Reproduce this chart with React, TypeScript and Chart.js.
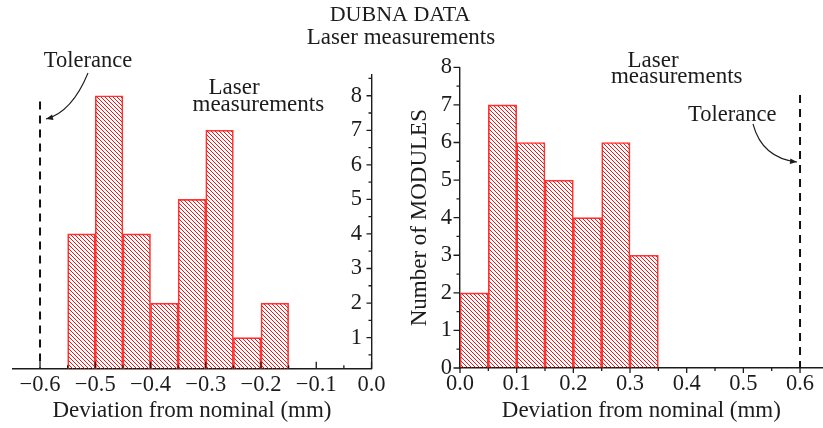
import React, { useEffect, useRef } from 'react';
import { Chart, registerables } from 'chart.js';

Chart.register(...registerables);

// Histogram bins (mm) and module counts
const BIN_WIDTH = 0.05;
const leftBinStarts = [-0.55, -0.5, -0.45, -0.4, -0.35, -0.3, -0.25, -0.2];
const leftCounts = [4, 8, 4, 2, 5, 7, 1, 2];
const rightBinStarts = [0, 0.05, 0.1, 0.15, 0.2, 0.25, 0.3];
const rightCounts = [2, 7, 6, 5, 4, 6, 3];

// Axis ticks
const leftXTicks = [-0.6, -0.5, -0.4, -0.3, -0.2, -0.1, 0];
const rightXTicks = [0, 0.1, 0.2, 0.3, 0.4, 0.5, 0.6];
const leftYTicks = [1, 2, 3, 4, 5, 6, 7, 8];
const rightYTicks = [0, 1, 2, 3, 4, 5, 6, 7, 8];

// Tolerance limits (mm)
const leftTolerance = -0.6;
const rightTolerance = 0.6;
const leftToleranceTop = 7.83;
const rightToleranceTop = 7.26;

const SERIF = '"Liberation Serif", "Times New Roman", Times, serif';
const INK = '#1c1c1c';
const RED = '#ff3535';
const HATCH = 4;

const fmt = (v: number) => (v < -1e-9 ? '\u2212' : '') + Math.abs(v).toFixed(1);

function makeHatch(): CanvasPattern | string {
  const tile = document.createElement('canvas');
  tile.width = HATCH;
  tile.height = HATCH;
  const g = tile.getContext('2d');
  if (!g) return 'rgba(255,0,0,0.4)';
  g.strokeStyle = '#ff1010';
  g.lineWidth = 1;
  g.beginPath();
  for (let k = -1; k <= 1; k++) {
    g.moveTo(k * HATCH - 1, -1);
    g.lineTo(k * HATCH + HATCH + 1, HATCH + 1);
  }
  g.stroke();
  return g.createPattern(tile, 'repeat') || 'rgba(255,0,0,0.4)';
}

// minor ticks halfway between majors, strictly inside the axis range
function minorsOf(majors: number[], min: number, max: number): number[] {
  const step = majors[1] - majors[0];
  const out: number[] = [];
  const eps = 1e-6;
  majors.forEach((m) => {
    [m - step / 2, m + step / 2].forEach((v) => {
      if (v > min + eps && v < max - eps && !out.some((o) => Math.abs(o - v) < eps)) out.push(v);
    });
  });
  return out;
}

type Label = { text: string; x: number; y: number; size: number };
type Arrow = { from: [number, number]; ctrl: [number, number]; to: (c: Chart) => [number, number] };
type Decor = {
  xMajor: number[];
  xMinor: number[];
  xDir: number;
  xLen: [number, number];
  yAxisAt: (c: Chart) => number;
  yMajor: number[];
  yMinor: number[];
  yLen: [number, number];
  yLabels: boolean;
  labels: Label[];
  arrows: Arrow[];
};

function decorPlugin(d: Decor) {
  return {
    id: 'decor',
    afterDraw(chart: Chart) {
      const ctx = chart.ctx;
      const xs = chart.scales.x;
      const ys = chart.scales.y;
      const area = chart.chartArea;
      ctx.save();
      ctx.strokeStyle = INK;
      ctx.lineWidth = 1.3;
      ctx.beginPath();
      d.xMajor.forEach((v) => {
        const px = xs.getPixelForValue(v);
        ctx.moveTo(px, area.bottom);
        ctx.lineTo(px, area.bottom + d.xDir * d.xLen[0]);
      });
      d.xMinor.forEach((v) => {
        const px = xs.getPixelForValue(v);
        ctx.moveTo(px, area.bottom);
        ctx.lineTo(px, area.bottom + d.xDir * d.xLen[1]);
      });
      const ax = d.yAxisAt(chart);
      d.yMajor.forEach((v) => {
        const py = ys.getPixelForValue(v);
        ctx.moveTo(ax, py);
        ctx.lineTo(ax - d.yLen[0], py);
      });
      d.yMinor.forEach((v) => {
        const py = ys.getPixelForValue(v);
        ctx.moveTo(ax, py);
        ctx.lineTo(ax - d.yLen[1], py);
      });
      ctx.stroke();

      ctx.fillStyle = INK;
      if (d.yLabels) {
        ctx.font = `22.5px ${SERIF}`;
        ctx.textAlign = 'right';
        ctx.textBaseline = 'middle';
        d.yMajor.forEach((v) => {
          ctx.fillText(String(v), ax - 9.5, ys.getPixelForValue(v));
        });
      }

      ctx.textAlign = 'center';
      ctx.textBaseline = 'alphabetic';
      d.labels.forEach((l) => {
        ctx.font = `${l.size}px ${SERIF}`;
        ctx.fillText(l.text, l.x, l.y);
      });

      ctx.lineWidth = 1.1;
      d.arrows.forEach((a) => {
        const [tx, ty] = a.to(chart);
        ctx.beginPath();
        ctx.moveTo(a.from[0], a.from[1]);
        ctx.quadraticCurveTo(a.ctrl[0], a.ctrl[1], tx, ty);
        ctx.stroke();
        const ang = Math.atan2(ty - a.ctrl[1], tx - a.ctrl[0]);
        const len = 7;
        const hw = 2.8;
        const bx = tx - len * Math.cos(ang);
        const by = ty - len * Math.sin(ang);
        ctx.beginPath();
        ctx.moveTo(tx, ty);
        ctx.lineTo(bx + hw * Math.sin(ang), by - hw * Math.cos(ang));
        ctx.lineTo(bx - hw * Math.sin(ang), by + hw * Math.cos(ang));
        ctx.closePath();
        ctx.fill();
      });
      ctx.restore();
    },
  };
}

const tickFont = { family: SERIF, size: 22.5 };
const titleFont = { family: SERIF, size: 23 };

function histogramDataset(starts: number[], counts: number[], hatch: CanvasPattern | string) {
  return {
    type: 'bar' as const,
    data: starts.map((s, i) => ({ x: s + BIN_WIDTH / 2, y: counts[i] })),
    backgroundColor: hatch,
    borderColor: RED,
    borderWidth: 1,
    barPercentage: 1,
    categoryPercentage: 1,
    clip: 0,
  };
}

function toleranceDataset(x: number, y0: number, y1: number) {
  return {
    type: 'line' as const,
    data: [
      { x, y: y1 },
      { x, y: y0 },
    ],
    borderColor: '#111',
    borderWidth: 2,
    borderDash: [8, 6],
    pointRadius: 0,
    fill: false,
    clip: false as const,
  };
}

function leftConfig(hatch: CanvasPattern | string): any {
  const yMin = 0.1;
  const yMax = 8.6;
  const xMin = -0.65;
  const xMax = 0;
  const decor = decorPlugin({
    xMajor: leftXTicks,
    xMinor: minorsOf(leftXTicks, xMin, xMax),
    xDir: -1,
    xLen: [7, 3.5],
    yAxisAt: (c) => c.scales.x.getPixelForValue(0),
    yMajor: leftYTicks,
    yMinor: minorsOf(leftYTicks, yMin, yMax),
    yLen: [5, 3],
    yLabels: true,
    labels: [
      { text: 'DUBNA DATA', x: 400, y: 21, size: 22 },
      { text: 'Laser measurements', x: 401, y: 43.5, size: 23 },
      { text: 'Tolerance', x: 88, y: 66.7, size: 22.5 },
      { text: 'Laser', x: 234, y: 94.3, size: 23 },
      { text: 'measurements', x: 258.3, y: 110.7, size: 23 },
    ],
    arrows: [
      {
        from: [88, 73],
        ctrl: [72, 112],
        to: (c) => [c.scales.x.getPixelForValue(leftTolerance) + 6, 119],
      },
    ],
  });
  return {
    type: 'bar',
    data: {
      datasets: [
        histogramDataset(leftBinStarts, leftCounts, hatch),
        toleranceDataset(leftTolerance, yMin, leftToleranceTop),
      ],
    },
    plugins: [decor],
    options: {
      responsive: false,
      animation: false,
      events: [],
      layout: { padding: { left: 12.4, right: 451.5, top: 75, bottom: 0 } },
      plugins: { legend: { display: false }, tooltip: { enabled: false }, title: { display: false } },
      scales: {
        x: {
          type: 'linear',
          position: 'bottom',
          min: xMin,
          max: xMax,
          offset: false,
          afterBuildTicks: (s: any) => {
            s.ticks = leftXTicks.map((v) => ({ value: v }));
          },
          afterFit: (s: any) => {
            s.height = 59.3;
          },
          ticks: {
            padding: 3.3,
            font: tickFont,
            color: INK,
            maxRotation: 0,
            autoSkip: false,
            callback: (v: number) => fmt(v),
          },
          grid: { display: true, drawOnChartArea: false, drawTicks: false },
          border: { display: true, color: INK, width: 1.4 },
          title: {
            display: true,
            text: 'Deviation from nominal (mm)',
            font: titleFont,
            color: INK,
            padding: { top: 0, bottom: 3 },
          },
        },
        y: {
          type: 'linear',
          position: { x: 0 },
          min: yMin,
          max: yMax,
          afterBuildTicks: (s: any) => {
            s.ticks = leftYTicks.map((v) => ({ value: v }));
          },
          ticks: { display: false },
          grid: { display: true, drawOnChartArea: false, drawTicks: false },
          border: { display: true, color: INK, width: 1.4 },
        },
      },
    },
  };
}

function rightConfig(hatch: CanvasPattern | string): any {
  const yMin = 0;
  const yMax = 8;
  const xMin = 0;
  const xMax = 0.64;
  const decor = decorPlugin({
    xMajor: rightXTicks,
    xMinor: minorsOf(rightXTicks, xMin, xMax),
    xDir: 1,
    xLen: [5, 3],
    yAxisAt: (c) => c.chartArea.left,
    yMajor: rightYTicks,
    yMinor: minorsOf(rightYTicks, yMin, yMax),
    yLen: [6.5, 3.5],
    yLabels: false,
    labels: [
      { text: 'Laser', x: 653, y: 66.7, size: 23 },
      { text: 'measurements', x: 676.7, y: 83.3, size: 23 },
      { text: 'Tolerance', x: 732.3, y: 121, size: 22.5 },
    ],
    arrows: [
      {
        from: [753, 124],
        ctrl: [762, 158],
        to: (c) => [c.scales.x.getPixelForValue(rightTolerance) - 3, 162],
      },
    ],
  });
  return {
    type: 'bar',
    data: {
      datasets: [
        histogramDataset(rightBinStarts, rightCounts, hatch),
        toleranceDataset(rightTolerance, yMin, rightToleranceTop),
      ],
    },
    plugins: [decor],
    options: {
      responsive: false,
      animation: false,
      events: [],
      layout: { padding: { left: 406.2, right: 0.3, top: 67.3, bottom: 0 } },
      plugins: { legend: { display: false }, tooltip: { enabled: false }, title: { display: false } },
      scales: {
        x: {
          type: 'linear',
          position: 'bottom',
          min: xMin,
          max: xMax,
          offset: false,
          afterBuildTicks: (s: any) => {
            s.ticks = rightXTicks.map((v) => ({ value: v }));
          },
          afterFit: (s: any) => {
            s.height = 60;
          },
          ticks: {
            padding: 2.7,
            font: tickFont,
            color: INK,
            maxRotation: 0,
            autoSkip: false,
            callback: (v: number) => fmt(v),
          },
          grid: { display: true, drawOnChartArea: false, drawTicks: false },
          border: { display: true, color: INK, width: 1.4 },
          title: {
            display: true,
            text: 'Deviation from nominal (mm)',
            font: titleFont,
            color: INK,
            padding: { top: 0, bottom: 3.4 },
          },
        },
        y: {
          type: 'linear',
          position: 'left',
          min: yMin,
          max: yMax,
          afterBuildTicks: (s: any) => {
            s.ticks = rightYTicks.map((v) => ({ value: v }));
          },
          afterFit: (s: any) => {
            s.width = 53.8;
          },
          ticks: { padding: 8, font: tickFont, color: INK, autoSkip: false },
          grid: { display: true, drawOnChartArea: false, drawTicks: false },
          border: { display: true, color: INK, width: 1.4 },
          title: {
            display: true,
            text: 'Number of MODULES',
            font: titleFont,
            color: INK,
            padding: { top: 0, bottom: 0 },
          },
        },
      },
    },
  };
}

export default function App() {
  const leftRef = useRef<HTMLCanvasElement>(null);
  const rightRef = useRef<HTMLCanvasElement>(null);

  useEffect(() => {
    if (!leftRef.current || !rightRef.current) return;
    const hatch = makeHatch();
    const left = new Chart(leftRef.current, leftConfig(hatch));
    const right = new Chart(rightRef.current, rightConfig(hatch));
    return () => {
      left.destroy();
      right.destroy();
    };
  }, []);

  const canvasStyle: React.CSSProperties = { position: 'absolute', left: 0, top: 0, display: 'block' };
  return (
    <div style={{ position: 'fixed', left: 0, top: 0, width: 823, height: 428, background: '#fff' }}>
      <canvas ref={leftRef} width={823} height={428} style={canvasStyle} />
      <canvas ref={rightRef} width={823} height={428} style={canvasStyle} />
    </div>
  );
}
